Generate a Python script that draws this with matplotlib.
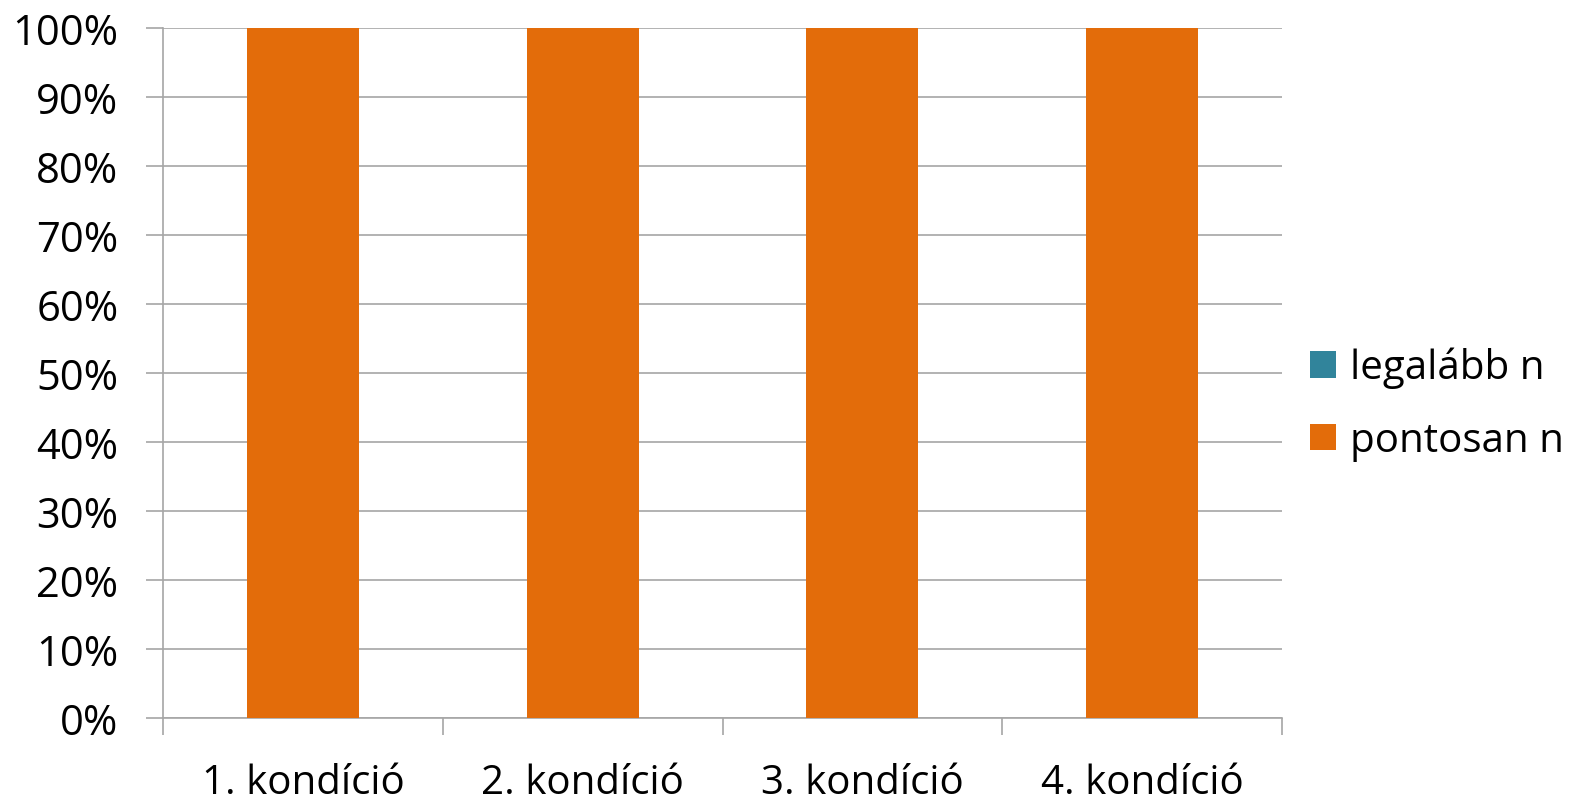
import matplotlib.pyplot as plt
from matplotlib.ticker import FuncFormatter, FixedLocator

plt.rcParams['font.family'] = ['Open Sans', 'DejaVu Sans']

categories = ["1. kondíció", "2. kondíció", "3. kondíció", "4. kondíció"]
legalabb_n = [0, 0, 0, 0]
pontosan_n = [100, 100, 100, 100]

teal = "#31849B"
orange = "#E36C0A"
grid_grey = "#A6A6A6"

fig = plt.figure(figsize=(15.71, 8.03), dpi=100)
ax = fig.add_axes([163 / 1571, (803 - 719) / 803, (1282 - 163) / 1571, (719 - 29) / 803])

x = list(range(len(categories)))
ax.bar(x, legalabb_n, width=0.4, color=teal, label="legalább n", zorder=3)
ax.bar(x, pontosan_n, width=0.4, bottom=legalabb_n, color=orange, label="pontosan n", zorder=3)

ax.set_xlim(-0.5, len(categories) - 0.5)
ax.set_ylim(0, 100)
ax.set_yticks(range(0, 101, 10))
ax.yaxis.set_major_formatter(FuncFormatter(lambda v, _: f"{v:.0f}%"))
ax.grid(axis="y", color=grid_grey, linewidth=1.2, zorder=0)

ax.set_xticks(x)
ax.set_xticklabels(categories)
ax.xaxis.set_minor_locator(FixedLocator([i - 0.5 for i in range(len(categories) + 1)]))
ax.tick_params(axis="x", which="major", length=0, pad=32, labelsize=29)
ax.tick_params(axis="x", which="minor", length=12, width=1.2, color=grid_grey)
ax.tick_params(axis="y", length=12, width=1.2, color=grid_grey, labelsize=30, pad=20)

for side in ("top", "right"):
    ax.spines[side].set_visible(False)
for side in ("left", "bottom"):
    ax.spines[side].set_color(grid_grey)
    ax.spines[side].set_linewidth(1.2)

fig.legend(loc="center left", bbox_to_anchor=(1310 / 1571, (803 - 405) / 803),
           frameon=False, fontsize=29, handlelength=0.65, handleheight=0.65,
           handletextpad=0.35, labelspacing=0.8, borderaxespad=0, borderpad=0)

fig.savefig("out.png", dpi=100, facecolor="white")
